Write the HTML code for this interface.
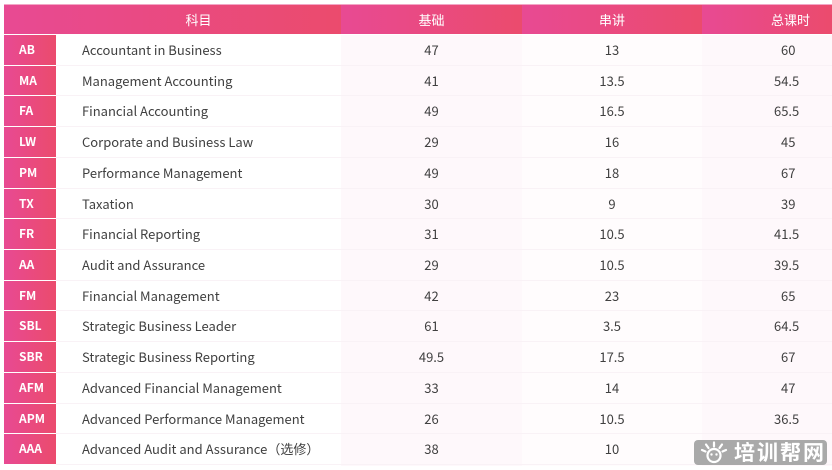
<!DOCTYPE html>
<html><head><meta charset="utf-8"><style>
*{margin:0;padding:0;box-sizing:border-box}
html,body{width:832px;height:470px;overflow:hidden;background:#fff}
body{position:relative;font-family:"Noto Sans CJK SC","Liberation Sans",sans-serif;color:#404040}
.topline{position:absolute;left:4px;top:4px;width:828px;height:1px;background:#f3a6c6}
.h{position:absolute;top:5px;height:29px;color:#fff;font-size:13px;line-height:29px;background:linear-gradient(90deg,#e84a93,#eb4b6d)}
.col{position:absolute;top:35px;height:431px}
.r{position:absolute;height:30.71px;line-height:30.71px;font-size:13px;border-bottom:1px solid #f9f2f6}
.code{position:absolute;left:4px;width:52px;height:30.71px;line-height:30px;color:#fff;font-weight:bold;font-size:12px;padding-left:15px;background:linear-gradient(90deg,#e84a93,#eb4b6d);border-bottom:1px solid #fff}
.c{text-align:center}
.wm{position:absolute;left:694px;top:440px;width:133px;height:25px;background:#a9a9a9;border-radius:4px;color:#fff;font-size:21px;font-weight:bold;line-height:25px;padding-left:40px;letter-spacing:2px}
</style></head><body>
<div class="topline"></div>
<div class="h" style="left:4px;width:337px;text-align:center;padding-left:52px">科目</div>
<div class="h" style="left:341px;width:181px;text-align:center">基础</div>
<div class="h" style="left:522px;width:180px;text-align:center">串讲</div>
<div class="h" style="left:702px;width:130px;text-align:left;padding-left:69px">总课时</div>
<div class="col" style="left:341px;width:181px;background:#fef8fb"></div>
<div class="col" style="left:522px;width:180px;background:#fffcfd"></div>
<div class="col" style="left:702px;width:130px;background:#fef8fb"></div>
<div id="rows"></div>
<script>
var d=[["AB","Accountant in Business","47","13","60"],["MA","Management Accounting","41","13.5","54.5"],["FA","Financial Accounting","49","16.5","65.5"],["LW","Corporate and Business Law","29","16","45"],["PM","Performance Management","49","18","67"],["TX","Taxation","30","9","39"],["FR","Financial Reporting","31","10.5","41.5"],["AA","Audit and Assurance","29","10.5","39.5"],["FM","Financial Management","42","23","65"],["SBL","Strategic Business Leader","61","3.5","64.5"],["SBR","Strategic Business Reporting","49.5","17.5","67"],["AFM","Advanced Financial Management","33","14","47"],["APM","Advanced Performance Management","26","10.5","36.5"],["AAA","Advanced Audit and Assurance（选修）","38","10",""]];
var h="";
for(var i=0;i<d.length;i++){var t=35+i*30.71;var r=d[i];
h+='<div class="code" style="top:'+t+'px">'+r[0]+'</div>';
h+='<div class="r" style="top:'+t+'px;left:56px;width:285px;padding-left:26px">'+r[1]+'</div>';
h+='<div class="r c" style="top:'+t+'px;left:341px;width:181px">'+r[2]+'</div>';
h+='<div class="r c" style="top:'+t+'px;left:522px;width:180px">'+r[3]+'</div>';
h+='<div class="r" style="top:'+t+'px;left:702px;width:130px;padding-left:'+(r[4].length>2?72:79)+'px">'+r[4]+'</div>';}
document.getElementById("rows").innerHTML=h;
</script>
<div class="wm"><svg style="position:absolute;left:6px;top:1px" width="28" height="23" viewBox="0 0 28 23">
<g stroke="#fff" stroke-width="2.2" stroke-linecap="round" fill="none">
<line x1="14" y1="1.5" x2="14" y2="5.5"/>
<line x1="6" y1="3.5" x2="8.5" y2="7"/>
<line x1="22" y1="3.5" x2="19.5" y2="7"/>
<line x1="2" y1="9" x2="5.5" y2="10.5"/>
<line x1="26" y1="9" x2="22.5" y2="10.5"/>
<circle cx="14" cy="14.5" r="6.5"/>
</g>
<circle cx="11.5" cy="13.5" r="1.2" fill="#fff"/><circle cx="16.5" cy="13.5" r="1.2" fill="#fff"/>
</svg>培训帮网</div>
</body></html>
